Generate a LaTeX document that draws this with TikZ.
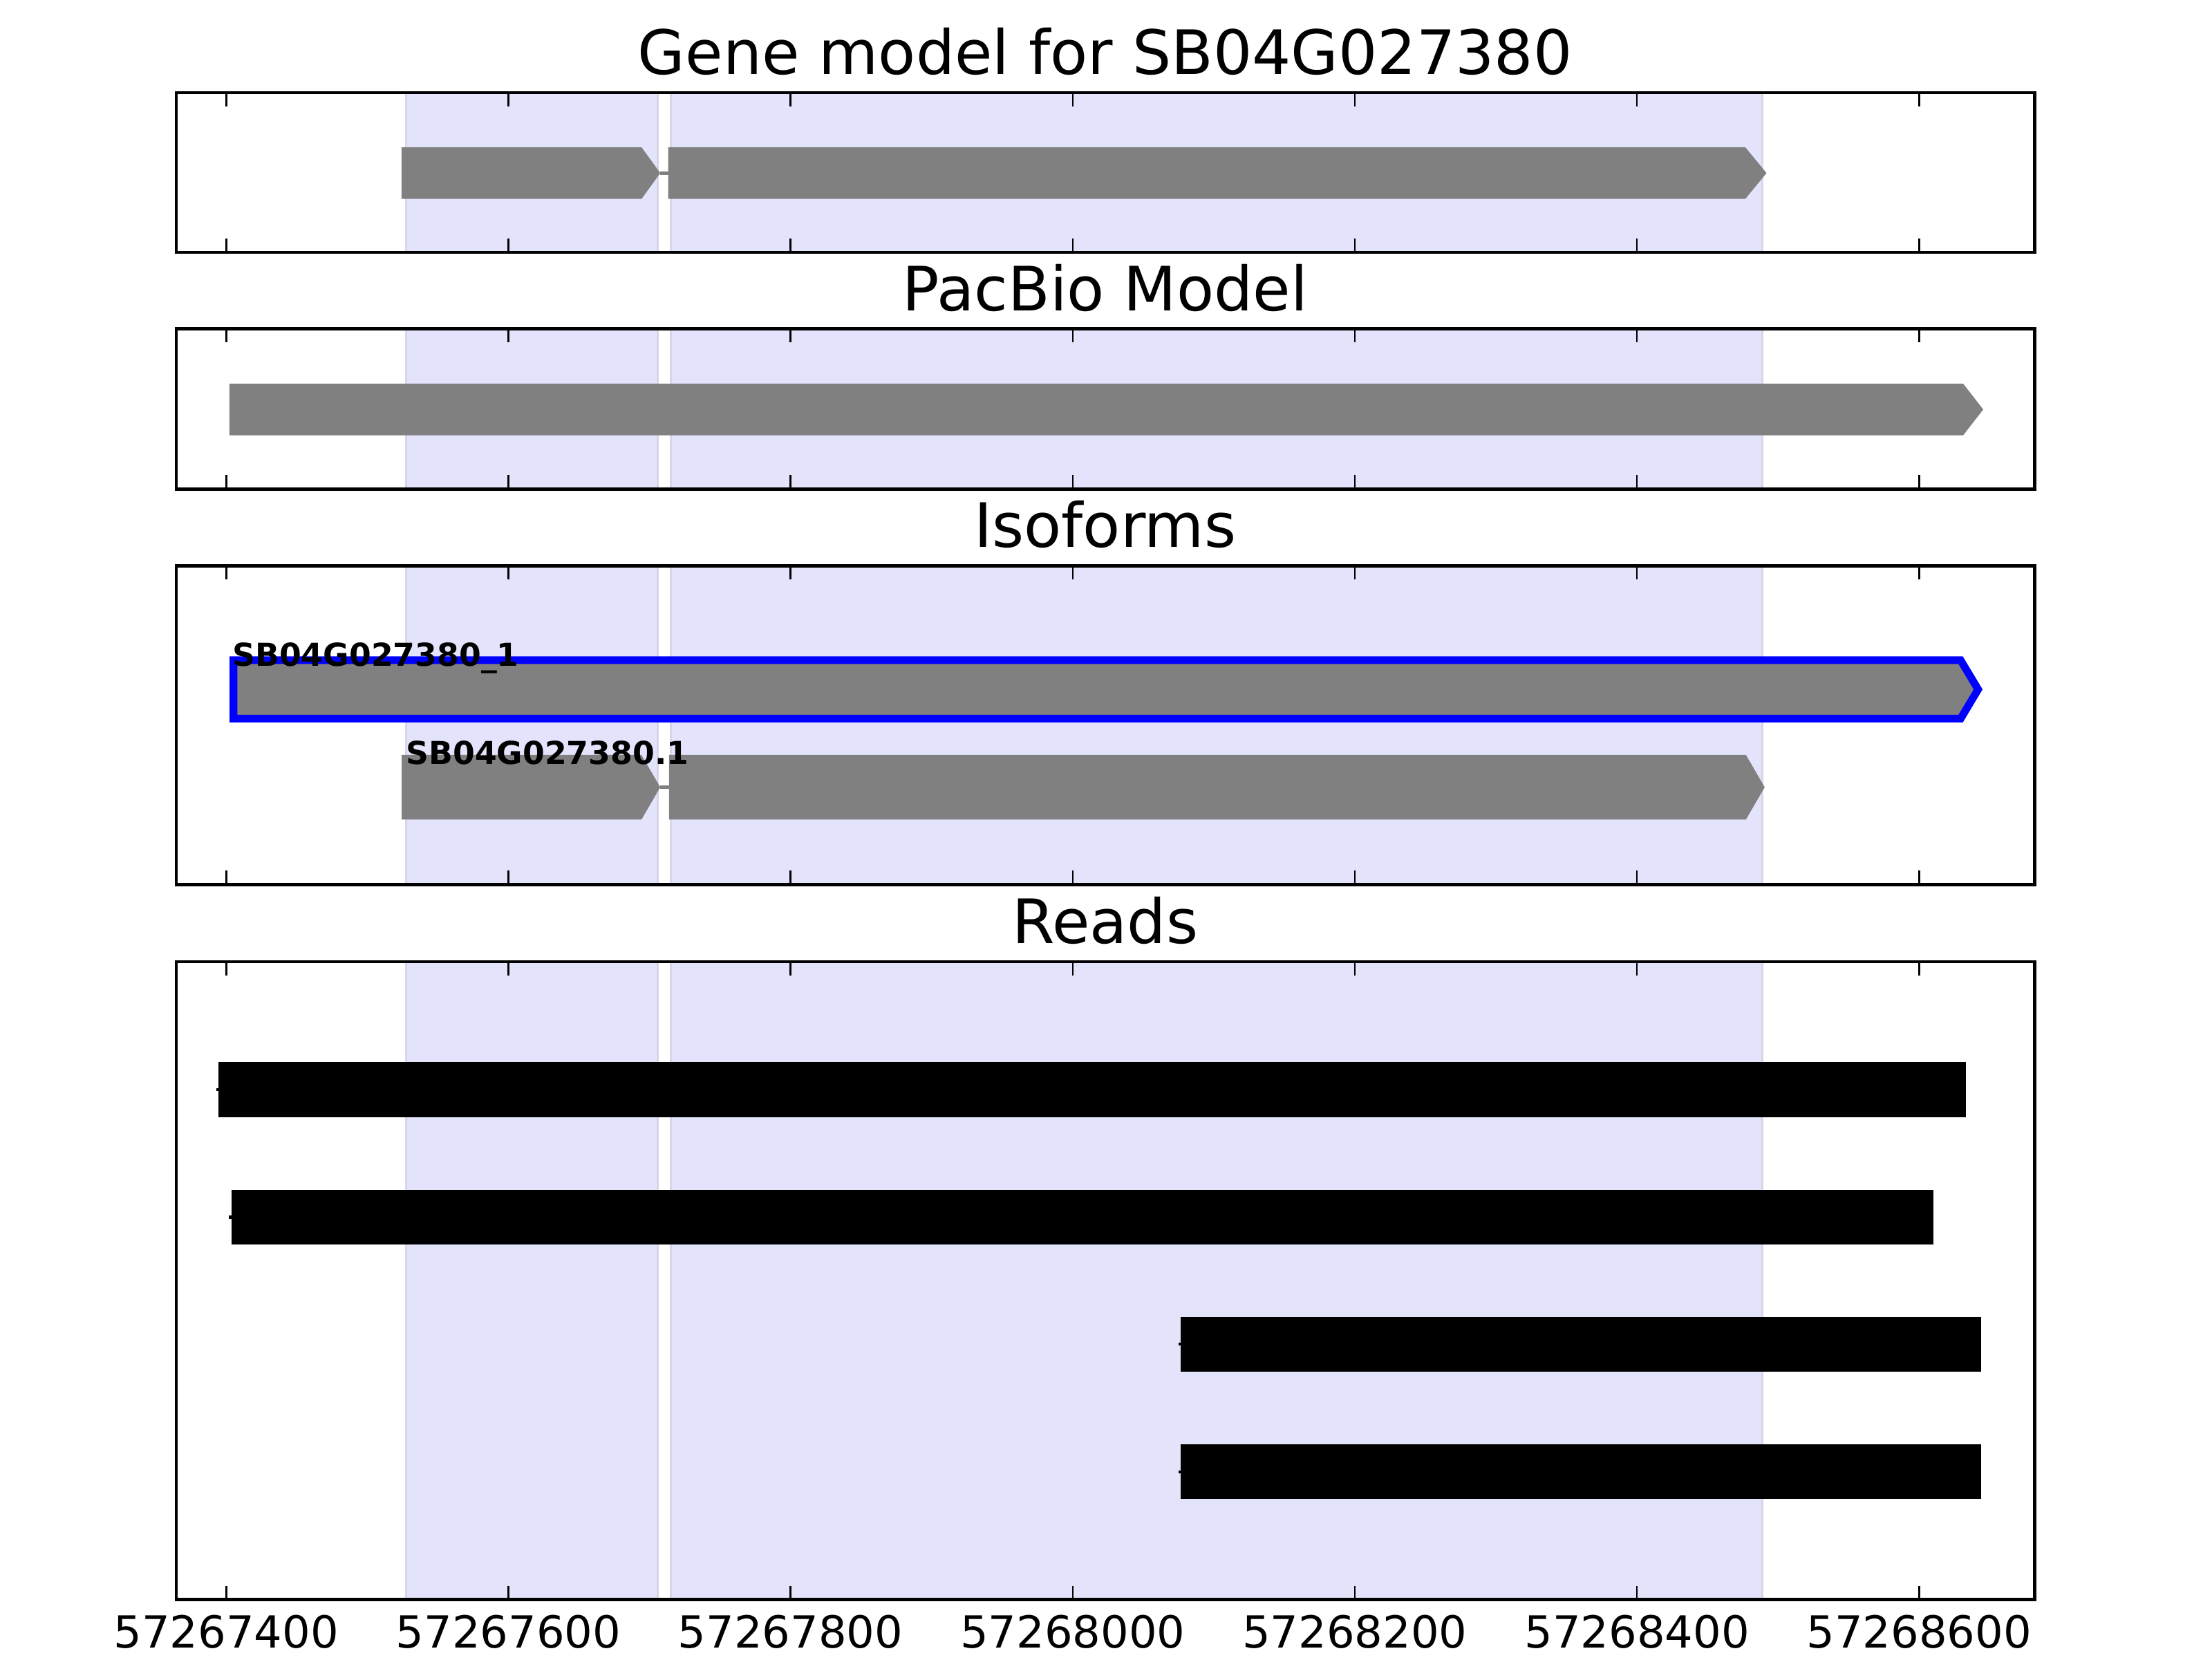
\documentclass[tikz,border=0pt]{standalone}
\usepackage{fontspec}
\setmainfont{DejaVu Sans}
\usepackage{tikz}
\definecolor{cSpan}{RGB}{227,227,252}
\definecolor{cSpanEdge}{RGB}{214,214,232}
\definecolor{cExon}{RGB}{128,128,128}
\tikzset{
	frame/.style    ={draw=black, line width=0.67pt},
	tickmark/.style ={draw=black, line width=0.35pt},
	span/.style     ={fill=cSpan, draw=cSpanEdge, line width=0.4pt},
	% track styles
	exon/.style     ={fill=cExon, draw=none},
	intron/.style   ={draw=cExon, line width=0.7pt},
	picked/.style   ={fill=cExon, draw=blue, line width=1.57pt, miter limit=10},
	readbar/.style  ={fill=black, draw=none},
	readtail/.style ={draw=black, line width=0.6pt},
}

\begin{document}
\begin{tikzpicture}[x=0.010204cm, y=-0.010204cm,
			ttl/.style={anchor=base, inner sep=0pt, font=\fontsize{12.6}{15}\selectfont},
			ticklab/.style={anchor=base, inner sep=0pt, font=\fontsize{9.1}{11}\selectfont},
			isolab/.style={anchor=base west, inner sep=0pt, font=\fontsize{6.5}{8}\selectfont\bfseries}]
	\useasboundingbox (0,0) rectangle (1568,1176);
	\begin{scope}[shift={(160.4,0)}]
		% shaded exon spans
		\foreach \top/\bot in {65.6/178.9, 233.0/346.5, 400.9/626.8, 681.6/1133.6}{
			\draw[span] (127.4,\top) rectangle (305.8,\bot);
			\draw[span] (315.1,\top) rectangle (1088.8,\bot);
		}
		\node[ttl] (tgm) at (623,52.6) {Gene model for SB04G027380};
		\node[ttl] (tpb) at (623,220.0) {PacBio Model};
		\node[ttl] (tiso) at (623,387.9) {Isoforms};
		\node[ttl] (trd) at (623,668.6) {Reads};
		% gene model
		\fill[exon] (124.2,104.4) -- (294.4,104.4) -- (307.6,122.65) -- (294.4,140.9) -- (124.2,140.9) -- cycle;
		\draw[intron] (307.6,122.65) -- (313.2,122.65);
		\fill[exon] (313.2,104.4) -- (1076.8,104.4) -- (1091.8,122.65) -- (1076.8,140.9) -- (313.2,140.9) -- cycle;
		% pacbio model
		\fill[exon] (2.2,271.9) -- (1231.2,271.9) -- (1245.4,290.2) -- (1231.2,308.5) -- (2.2,308.5) -- cycle;
		% isoforms
		\draw[picked] (5.1,467.9) -- (1229.4,467.9) -- (1241.8,488.6) -- (1229.4,509.3) -- (5.1,509.3) -- cycle;
		\node[isolab] (lbA) at (3.8,472.2) {SB04G027380\_1};
		\fill[exon] (124.3,535) -- (294.3,535) -- (307.6,557.9) -- (294.3,580.8) -- (124.3,580.8) -- cycle;
		\draw[intron] (307.6,557.9) -- (313.8,557.9);
		\fill[exon] (313.8,535) -- (1077.2,535) -- (1090.5,557.9) -- (1077.2,580.8) -- (313.8,580.8) -- cycle;
		\node[isolab] (lbB) at (126.8,541.9) {SB04G027380.1};
		% reads
		\foreach \xa/\xb/\yc in {-5.6/1233.0/772.2, 3.6/1210.0/862.6, 676.6/1244.0/952.6, 676.6/1244.0/1043.0}{
			\fill[readbar] (\xa,\yc-19.4) rectangle (\xb,\yc+19.4);
			\draw[readtail] (\xa-1.6,\yc) -- (\xa,\yc);
		}
		% frames and ticks
		\foreach \top/\bot in {65.6/178.9, 233.0/346.5, 400.9/626.8, 681.6/1133.6}{
			\foreach \off in {0,200,...,1200}{
				\draw[tickmark] (\off,\top) -- ++(0,9.75);
				\draw[tickmark] (\off,\bot) -- ++(0,-9.75);
			}
			\draw[frame] (-35.4,\top) rectangle (1281.9,\bot);
		}
		\foreach \off/\lab in {0/57267400, 200/57267600, 400/57267800, 600/57268000, 800/57268200, 1000/57268400, 1200/57268600}
			\node[ticklab] (x\off) at (\off,1168) {\lab};
	\end{scope}
\end{tikzpicture}
\end{document}
